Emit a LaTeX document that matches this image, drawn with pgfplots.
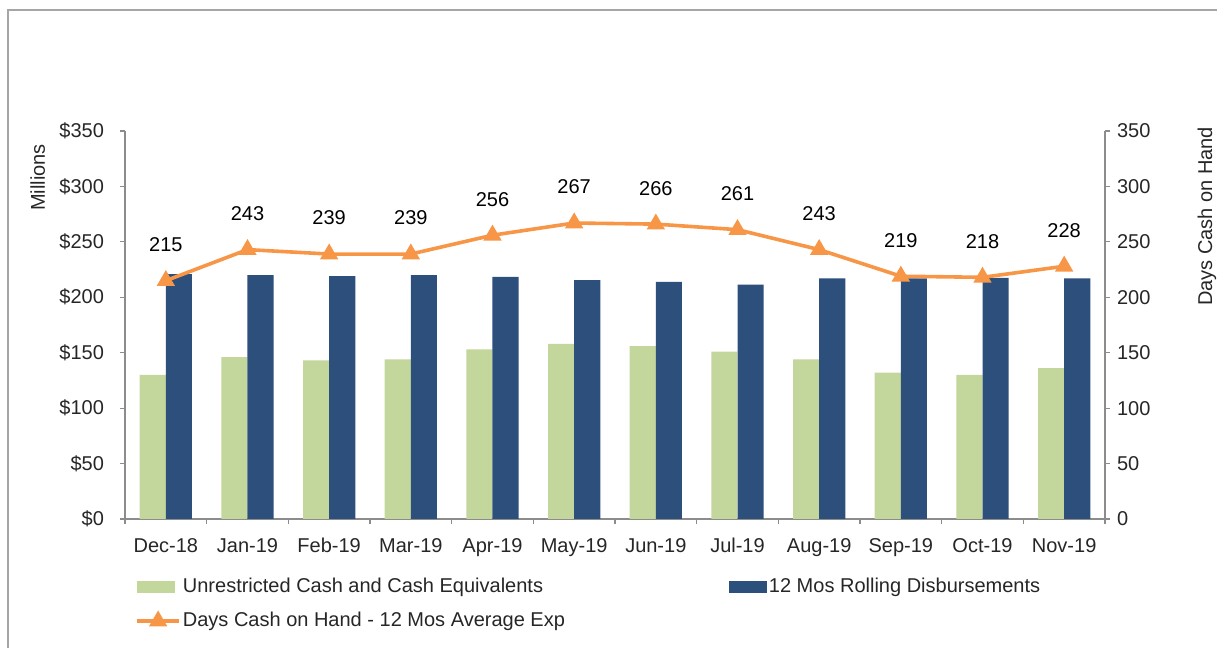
\documentclass[border=0pt]{standalone}
\usepackage{pgfplots}
\pgfplotsset{compat=1.18}
\usepackage{fontspec}
\setmainfont{Liberation Sans}

\definecolor{cashgreen}{HTML}{C3D69B}
\definecolor{disbblue}{HTML}{2C4F7C}
\definecolor{daysorange}{HTML}{F79646}
\definecolor{axgray}{HTML}{8C8C8C}
\definecolor{txt}{HTML}{262626}

\pgfplotsset{
  base/.style={
    scale only axis, width=490pt, height=194pt,
    at={(0,0)}, anchor=south west,
    xmin=-0.5, xmax=11.5, ymin=0, ymax=350,
    ytick={0,50,...,350},
    tick label style={font=\fontsize{10}{12}\selectfont, text=txt},
    label style={font=\fontsize{10}{12}\selectfont, text=txt},
    /pgf/number format/assume math mode=true,
    axis line style={axgray, line width=0.7pt},
    tick style={axgray, line width=0.6pt},
    major tick length=2.5pt, minor tick length=2.5pt,
    tick align=outside,
  },
  barlegend/.style={legend image code/.code={
      \fill[##1] (0pt,-3pt) rectangle (19pt,3pt);}},
  linelegend/.style={legend image code/.code={
      \draw[##1, mark=none] (0pt,0pt) -- (21pt,0pt);
      \path[##1, only marks] plot coordinates {(10.5pt,0pt)};}},
}

\begin{document}
\begin{tikzpicture}
  \useasboundingbox (-62.5pt,-64.5pt) rectangle (546pt,259.5pt);
  \draw[gray!70, line width=0.8pt] (-58.5pt,-64.5pt) -- (-58.5pt,254.5pt) -- (546pt,254.5pt);

  \begin{axis}[base,
      axis x line*=bottom, axis y line*=left,
      ybar=0pt, bar width=0.32,
      xtick={0,...,11},
      xticklabels={Dec-18,Jan-19,Feb-19,Mar-19,Apr-19,May-19,Jun-19,Jul-19,Aug-19,Sep-19,Oct-19,Nov-19},
      xticklabel style={yshift=-3.5pt},
      major x tick style={draw=none},
      minor xtick={-0.5,0.5,...,11.5},
      yticklabel={\$\pgfmathprintnumber{\tick}},
      yticklabel style={xshift=-4.5pt},
      ylabel={Millions},
      ylabel style={at={(axis description cs:-0.089,0.88)}, anchor=center},
      legend columns=2,
      legend cell align=left,
      legend style={draw=none, fill=none, font=\fontsize{10}{12}\selectfont, text=txt,
        at={(axis description cs:0.004,-0.13)}, anchor=north west,
        /tikz/every odd column/.append style={column sep=-1pt},
        /tikz/column 2/.style={column sep=80pt},
        row sep=4.5pt},
    ]
    \addplot[fill=cashgreen, draw=none, bar shift=-0.16, barlegend] coordinates {
      (0,130) (1,146) (2,143) (3,144) (4,153) (5,158)
      (6,156) (7,151) (8,144) (9,132) (10,130) (11,136)};
    \addplot[fill=disbblue, draw=none, bar shift=0.16, barlegend] coordinates {
      (0,221) (1,220) (2,219) (3,220) (4,218.5) (5,215.5)
      (6,214) (7,211.5) (8,217) (9,217) (10,217.5) (11,217)};
    \addlegendimage{linelegend, daysorange, line width=1.8pt, mark=triangle*, mark size=3.5pt}
    \legend{Unrestricted Cash and Cash Equivalents, 12 Mos Rolling Disbursements,
      Days Cash on Hand - 12 Mos Average Exp}
  \end{axis}

  \begin{axis}[base,
      axis x line=none, axis y line*=right,
      ylabel={Days Cash on Hand},
      ylabel style={at={(axis description cs:1.104,0.78)}, anchor=center},
      nodes near coords,
      every node near coord/.append style={font=\fontsize{10}{12}\selectfont, text=black,
        anchor=center, yshift=18pt},
    ]
    \addplot[daysorange, line width=1.8pt, mark=triangle*, mark size=3.5pt] coordinates {
      (0,215) (1,243) (2,239) (3,239) (4,256) (5,267)
      (6,266) (7,261) (8,243) (9,219) (10,218) (11,228)};
  \end{axis}
\end{tikzpicture}
\end{document}
